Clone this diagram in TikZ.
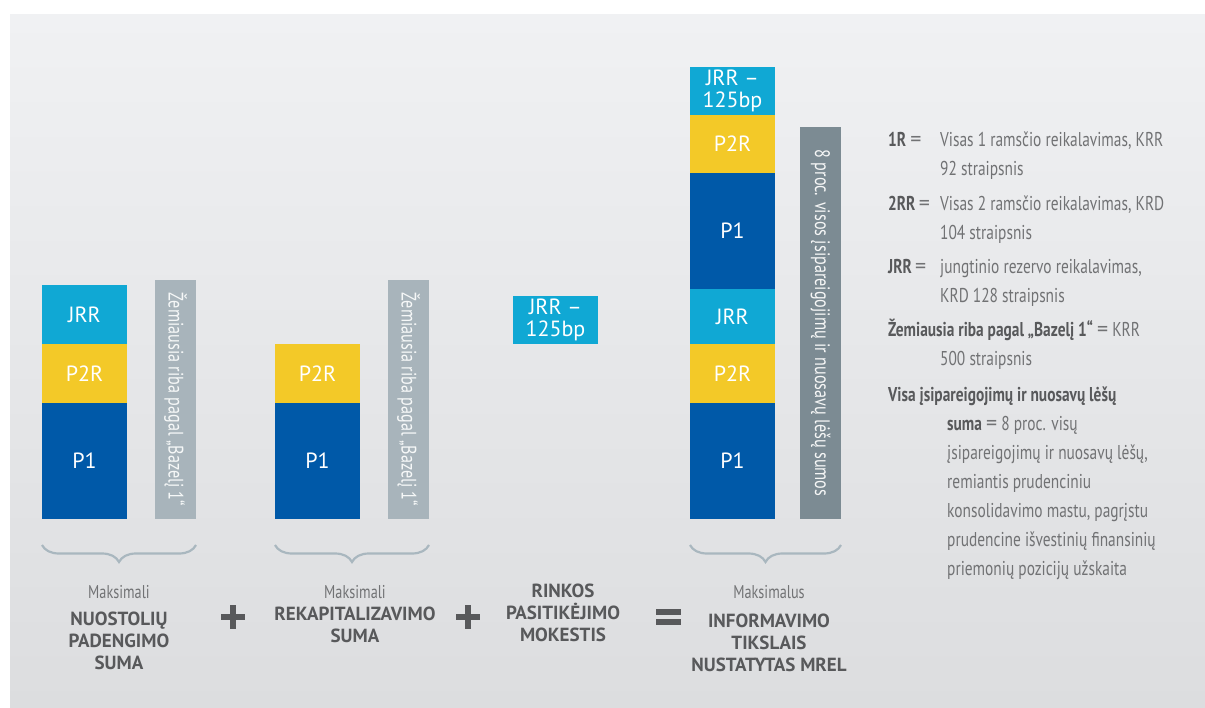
\documentclass[tikz,border=0pt]{standalone}
\usepackage{fontspec}
\setmainfont{PT Sans}
\newfontfamily\narrowfont[FakeStretch=0.77]{PT Sans}
\usetikzlibrary{
	positioning,
	calc,
	decorations.pathreplacing,
}
\definecolor{JrrBlue}{HTML}{10A8D4}
\definecolor{PtwoYellow}{HTML}{F3C928}
\definecolor{PoneBlue}{HTML}{0059A8}
\definecolor{BarGray}{HTML}{A8B4BB}
\definecolor{DarkBarGray}{HTML}{7C8B93}
\definecolor{BraceGray}{HTML}{A9B7BF}
\definecolor{CapGray}{HTML}{58595B}
\definecolor{LightGray}{HTML}{717274}
\definecolor{BgTop}{HTML}{F0F1F3}
\definecolor{BgBottom}{HTML}{DCDDDF}
\newcommand\lgkey[1]{{\bfseries\color{CapGray}#1}}
\newcommand\lgeq{{\normalfont\fontsize{22}{22}\selectfont=}}

\begin{document}
\begin{tikzpicture} [
            x=1pt,y=-1pt,
            seg/.style={rectangle,inner sep=0pt,outer sep=0pt,minimum width=85pt,text=white,font=\fontsize{22}{22}\selectfont,align=center},
            jrr/.style={seg,fill=JrrBlue},
            ptwo/.style={seg,fill=PtwoYellow},
            pone/.style={seg,fill=PoneBlue},
            vbar/.style={rectangle,inner sep=0pt,outer sep=0pt,minimum height=41pt,rotate=-90,text=white!90!BarGray,font=\narrowfont\fontsize{21}{21}\selectfont},
            brc/.style={draw=BraceGray,line width=2.2pt,decorate,decoration={brace,mirror,amplitude=17pt}},
            mx/.style={font=\narrowfont\fontsize{18.5}{18.5}\selectfont,text=LightGray},
            captxt/.style={font=\bfseries\fontsize{19}{22}\selectfont,text=CapGray,align=center},
            opsign/.style={draw=CapGray,line width=6pt}
        ]
        \useasboundingbox (0,0) rectangle (1205,708);
        \fill[white] (0,0) rectangle (1205,708);
        \shade[top color=BgTop,bottom color=BgBottom] (10,15) rectangle (1205,708);

        % loss absorption amount
        \node at (84.5,461) [pone,minimum height=116pt] (a-p1) {P1};
        \node [ptwo,minimum height=59pt,above=0pt of a-p1] (a-p2r) {P2R};
        \node [jrr,minimum height=59pt,above=0pt of a-p2r] (a-jrr) {JRR};
        \node at (175.5,399.5) [vbar,fill=BarGray,minimum width=239pt] (a-min) {Žemiausia riba pagal „Bazelį 1“};

        % recapitalisation amount
        \node at (317.5,461) [pone,minimum height=116pt] (b-p1) {P1};
        \node [ptwo,minimum height=59pt,above=0pt of b-p1] (b-p2r) {P2R};
        \node at (408.5,399.5) [vbar,fill=BarGray,minimum width=239pt] (b-min) {Žemiausia riba pagal „Bazelį 1“};

        % market confidence charge
        \node at (555.5,320) [jrr,minimum height=48pt] (c-jrr) {JRR –\\125bp};

        % MREL
        \node at (732.5,461) [pone,minimum height=116pt] (d-p1) {P1};
        \node [ptwo,minimum height=59pt,above=0pt of d-p1] (d-p2r) {P2R};
        \node [jrr,minimum height=55pt,above=0pt of d-p2r] (d-jrr) {JRR};
        \node [pone,minimum height=116pt,above=0pt of d-jrr] (d-p1b) {P1};
        \node [ptwo,minimum height=58pt,above=0pt of d-p1b] (d-p2rb) {P2R};
        \node [jrr,minimum height=48pt,above=0pt of d-p2rb] (d-jrrb) {JRR –\\125bp};
        \node at (820.5,323) [vbar,fill=DarkBarGray,text=white!92!DarkBarGray,minimum width=392pt] (d-tot) {8 proc. visos įsipareigojimų ir nuosavų lėšų sumos};

        \draw[brc] ([yshift=-26pt]a-p1.south west) -- ([yshift=-26pt]a-min.north east);
        \draw[brc] ([yshift=-26pt]b-p1.south west) -- ([yshift=-26pt]b-min.north east);
        \draw[brc] ([yshift=-26pt]d-p1.south west) -- ([yshift=-26pt]d-tot.north east);

        \node at (119,592) [mx] (a-mx) {Maksimali};
        \node at (119,641) [captxt] (a-cap) {NUOSTOLIŲ\\PADENGIMO\\SUMA};
        \node at (355,592) [mx] (b-mx) {Maksimali};
        \node at (355,625) [captxt] (b-cap) {REKAPITALIZAVIMO\\SUMA};
        \node at (563,613) [captxt] (c-cap) {RINKOS\\PASITIKĖJIMO\\MOKESTIS};
        \node at (769,592) [mx] (d-mx) {Maksimalus};
        \node at (769,643) [captxt] (d-cap) {INFORMAVIMO\\TIKSLAIS\\NUSTATYTAS MREL};

        \coordinate (plus1) at (233,617);
        \coordinate (plus2) at (468,617);
        \coordinate (eq) at (668.5,617);
        \draw[opsign] ($(plus1)+(-12,0)$) -- ($(plus1)+(12,0)$) ($(plus1)+(0,-12)$) -- ($(plus1)+(0,12)$);
        \draw[opsign] ($(plus2)+(-12,0)$) -- ($(plus2)+(12,0)$) ($(plus2)+(0,-12)$) -- ($(plus2)+(0,12)$);
        \draw[opsign] ($(eq)+(-12.5,-5)$) -- ($(eq)+(12.5,-5)$) ($(eq)+(-12.5,5)$) -- ($(eq)+(12.5,5)$);

        % legend
        \node at (888,132) [anchor=north west,inner sep=0pt,align=left,text=LightGray,font=\narrowfont\fontsize{20}{29}\selectfont] (legend) {
            \makebox[52pt][l]{\lgkey{1R} \lgeq}Visas 1 ramsčio reikalavimas, KRR\\
            \hspace*{52pt}92 straipsnis\\[6pt]
            \makebox[52pt][l]{\lgkey{2RR}\,\lgeq}Visas 2 ramsčio reikalavimas, KRD\\
            \hspace*{52pt}104 straipsnis\\[5pt]
            \makebox[52pt][l]{\lgkey{JRR}\,\lgeq}jungtinio rezervo reikalavimas,\\
            \hspace*{52pt}KRD 128 straipsnis\\[5pt]
            \lgkey{Žemiausia riba pagal „Bazelį 1“} \lgeq{} KRR\\
            \hspace*{52pt}500 straipsnis\\[7pt]
            \lgkey{Visa įsipareigojimų ir nuosavų lėšų}\\
            \hspace*{59pt}\lgkey{suma} \lgeq{} 8 proc. visų\\
            \hspace*{59pt}įsipareigojimų ir nuosavų lėšų,\\
            \hspace*{59pt}remiantis prudenciniu\\
            \hspace*{59pt}konsolidavimo mastu, pagrįstu\\
            \hspace*{59pt}prudencine išvestinių finansinių\\
            \hspace*{59pt}priemonių pozicijų užskaita
        };
    \end{tikzpicture}
\end{document}
